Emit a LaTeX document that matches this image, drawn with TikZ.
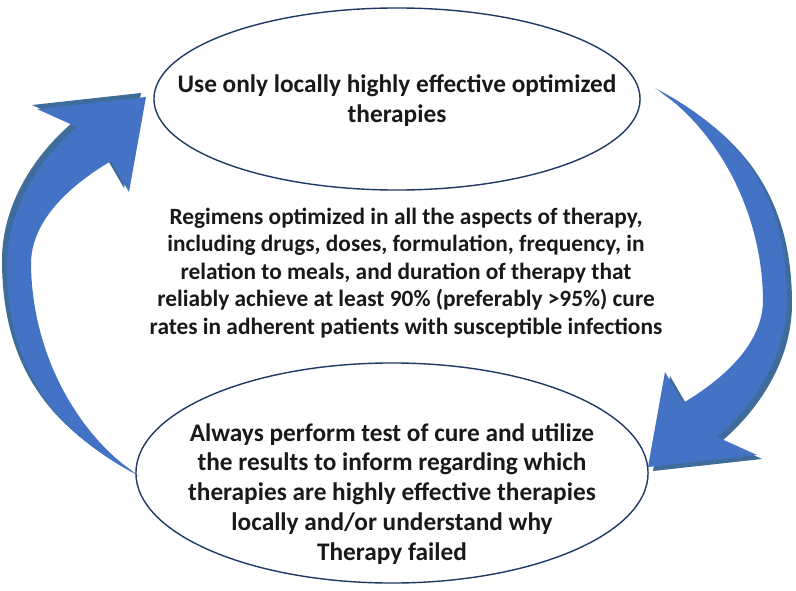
\documentclass[tikz,border=0pt]{standalone}
\usepackage{fontspec}
\setmainfont{Carlito}
\usetikzlibrary{shapes.geometric}
\definecolor{arrowblue}{HTML}{4472C4}
\definecolor{arrowshade}{HTML}{3F6C9A}
\definecolor{rim}{HTML}{1F3864}
\tikzset{bubble/.style={ellipse,draw=rim,line width=1pt,inner sep=0pt}}
\tikzset{boxtext/.style={align=center,text=black!90,font=\bfseries\fontsize{18}{21.3}\selectfont}}
\tikzset{midtext/.style={align=center,text=black!90,font=\bfseries\fontsize{16.6}{19.6}\selectfont}}
\tikzset{pics/bentarrow/.style={code={
  \foreach \dx/\dy/\col in {5/4/arrowshade,0/0/arrowblue}
    \fill[\col,shift={(\dx,\dy)}] (655,88) .. controls (745,135) and (787,200) .. (787,300)
      .. controls (787,350) and (760,400) .. (717,437) -- (757,455) -- (648,467)
      -- (665,372) -- (683,403) .. controls (730,375) and (763,340) .. (763,300)
      .. controls (762,205) and (712,125) .. cycle;
}}}

\begin{document}
\begin{tikzpicture}[x=0.025cm,y=-0.025cm]
    \useasboundingbox (0,0) rectangle (796,591);
    \node[bubble,minimum width=12.15cm,minimum height=4.55cm] (use) at (397,99) {};
    \node[boxtext] (uselbl) at (397,101) {Use only locally highly effective optimized\\therapies};
    \node[midtext] (regimen) at (406,273) {Regimens optimized in all the aspects of therapy,\\including drugs, doses, formulation, frequency, in\\relation to meals, and duration of therapy that\\reliably achieve at least 90\% (preferably >95\%) cure\\rates in adherent patients with susceptible infections};
    \node[bubble,minimum width=12.8cm,minimum height=5.5cm] (test) at (392,473) {};
    \node[boxtext] (testlbl) at (392,494) {Always perform test of cure and utilize\\the results to inform regarding which\\therapies are highly effective therapies\\locally and/or understand why\\Therapy failed};
    \pic {bentarrow};
    \pic[rotate around={180:(397,282)}] {bentarrow};
  \end{tikzpicture}
\end{document}
